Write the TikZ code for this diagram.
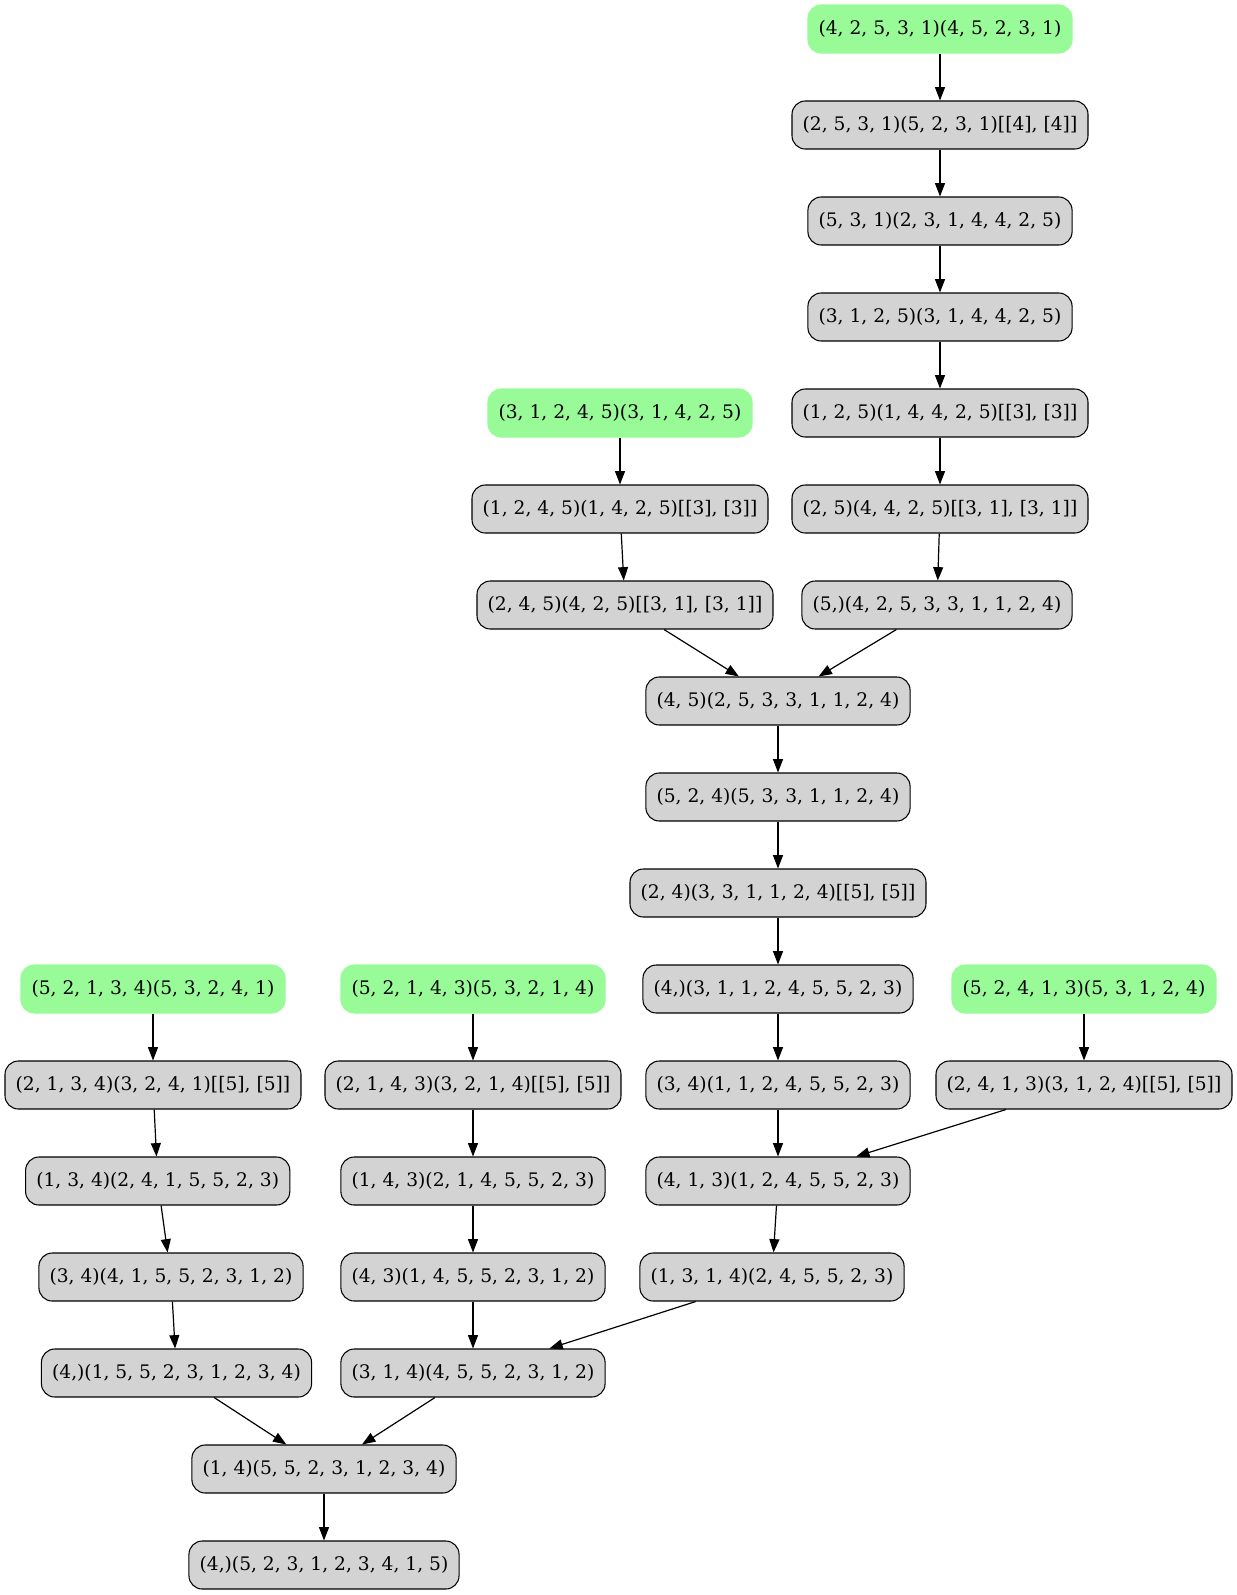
\documentclass[tikz,border=0pt]{standalone}
\usepackage{fontspec}
\setmainfont{DejaVu Serif}
\usetikzlibrary{arrows.meta}
\definecolor{graybox}{HTML}{D3D3D3}
\definecolor{startgreen}{HTML}{98FB98}
\begin{document}
\begin{tikzpicture}[x=0.75pt,y=-0.75pt,
  box/.style={draw=black, line width=0.8pt, fill=graybox, rounded corners=10pt,
    minimum height=36pt, inner xsep=8pt, inner ysep=0pt,
    font=\fontsize{14pt}{16pt}\selectfont},
  startbox/.style={box, draw=startgreen, fill=startgreen},
  edge/.style={-{Triangle[length=10pt,width=7.5pt]}, line width=0.9pt}]
\useasboundingbox (0,0) rectangle (1237,1595);

% right column
\node[startbox] (a1) at (940,29)  {(4, 2, 5, 3, 1)(4, 5, 2, 3, 1)};
\node[box] (a2) at (940,125) {(2, 5, 3, 1)(5, 2, 3, 1)[[4], [4]]};
\node[box] (a3) at (940,221) {(5, 3, 1)(2, 3, 1, 4, 4, 2, 5)};
\node[box] (a4) at (940,317) {(3, 1, 2, 5)(3, 1, 4, 4, 2, 5)};
\node[box] (a5) at (940,413) {(1, 2, 5)(1, 4, 4, 2, 5)[[3], [3]]};
\node[box] (a6) at (940,509) {(2, 5)(4, 4, 2, 5)[[3, 1], [3, 1]]};
\node[box] (a7) at (937,605) {(5,)(4, 2, 5, 3, 3, 1, 1, 2, 4)};

% second start
\node[startbox] (b1) at (620,413) {(3, 1, 2, 4, 5)(3, 1, 4, 2, 5)};
\node[box] (b2) at (620,509) {(1, 2, 4, 5)(1, 4, 2, 5)[[3], [3]]};
\node[box] (b3) at (625,605) {(2, 4, 5)(4, 2, 5)[[3, 1], [3, 1]]};

% middle chain
\node[box] (c1) at (778,701)  {(4, 5)(2, 5, 3, 3, 1, 1, 2, 4)};
\node[box] (c2) at (778,797)  {(5, 2, 4)(5, 3, 3, 1, 1, 2, 4)};
\node[box] (c3) at (778,893)  {(2, 4)(3, 3, 1, 1, 2, 4)[[5], [5]]};
\node[box] (c4) at (778,989)  {(4,)(3, 1, 1, 2, 4, 5, 5, 2, 3)};
\node[box] (c5) at (778,1085) {(3, 4)(1, 1, 2, 4, 5, 5, 2, 3)};
\node[box] (c6) at (778,1181) {(4, 1, 3)(1, 2, 4, 5, 5, 2, 3)};
\node[box] (c7) at (772,1277) {(1, 3, 1, 4)(2, 4, 5, 5, 2, 3)};

% far right start
\node[startbox] (d1) at (1084,989) {(5, 2, 4, 1, 3)(5, 3, 1, 2, 4)};
\node[box] (d2) at (1084,1085) {(2, 4, 1, 3)(3, 1, 2, 4)[[5], [5]]};

% left chain
\node[startbox] (e1) at (153,989) {(5, 2, 1, 3, 4)(5, 3, 2, 4, 1)};
\node[box] (e2) at (153,1085)   {(2, 1, 3, 4)(3, 2, 4, 1)[[5], [5]]};
\node[box] (e3) at (157.7,1181) {(1, 3, 4)(2, 4, 1, 5, 5, 2, 3)};
\node[box] (e4) at (171,1277)   {(3, 4)(4, 1, 5, 5, 2, 3, 1, 2)};
\node[box] (e5) at (176.5,1373) {(4,)(1, 5, 5, 2, 3, 1, 2, 3, 4)};

% second left chain
\node[startbox] (f1) at (473,989) {(5, 2, 1, 4, 3)(5, 3, 2, 1, 4)};
\node[box] (f2) at (473,1085) {(2, 1, 4, 3)(3, 2, 1, 4)[[5], [5]]};
\node[box] (f3) at (473,1181) {(1, 4, 3)(2, 1, 4, 5, 5, 2, 3)};
\node[box] (f4) at (473,1277) {(4, 3)(1, 4, 5, 5, 2, 3, 1, 2)};
\node[box] (f5) at (473,1373) {(3, 1, 4)(4, 5, 5, 2, 3, 1, 2)};

% bottom
\node[box] (g1) at (324,1469) {(1, 4)(5, 5, 2, 3, 1, 2, 3, 4)};
\node[box] (g2) at (324,1565) {(4,)(5, 2, 3, 1, 2, 3, 4, 1, 5)};

\draw[edge] (a1) -- (a2);
\draw[edge] (a2) -- (a3);
\draw[edge] (a3) -- (a4);
\draw[edge] (a4) -- (a5);
\draw[edge] (a5) -- (a6);
\draw[edge] (a6) -- (a7);
\draw[edge] (b1) -- (b2);
\draw[edge] (b2) -- (b3);
\draw[edge] (b3) -- (c1);
\draw[edge] (a7) -- (c1);
\draw[edge] (c1) -- (c2);
\draw[edge] (c2) -- (c3);
\draw[edge] (c3) -- (c4);
\draw[edge] (c4) -- (c5);
\draw[edge] (c5) -- (c6);
\draw[edge] (d1) -- (d2);
\draw[edge] (d2) -- (c6);
\draw[edge] (c6) -- (c7);
\draw[edge] (c7) -- (f5);
\draw[edge] (e1) -- (e2);
\draw[edge] (e2) -- (e3);
\draw[edge] (e3) -- (e4);
\draw[edge] (e4) -- (e5);
\draw[edge] (f1) -- (f2);
\draw[edge] (f2) -- (f3);
\draw[edge] (f3) -- (f4);
\draw[edge] (f4) -- (f5);
\draw[edge] (e5) -- (g1);
\draw[edge] (f5) -- (g1);
\draw[edge] (g1) -- (g2);
\end{tikzpicture}
\end{document}
